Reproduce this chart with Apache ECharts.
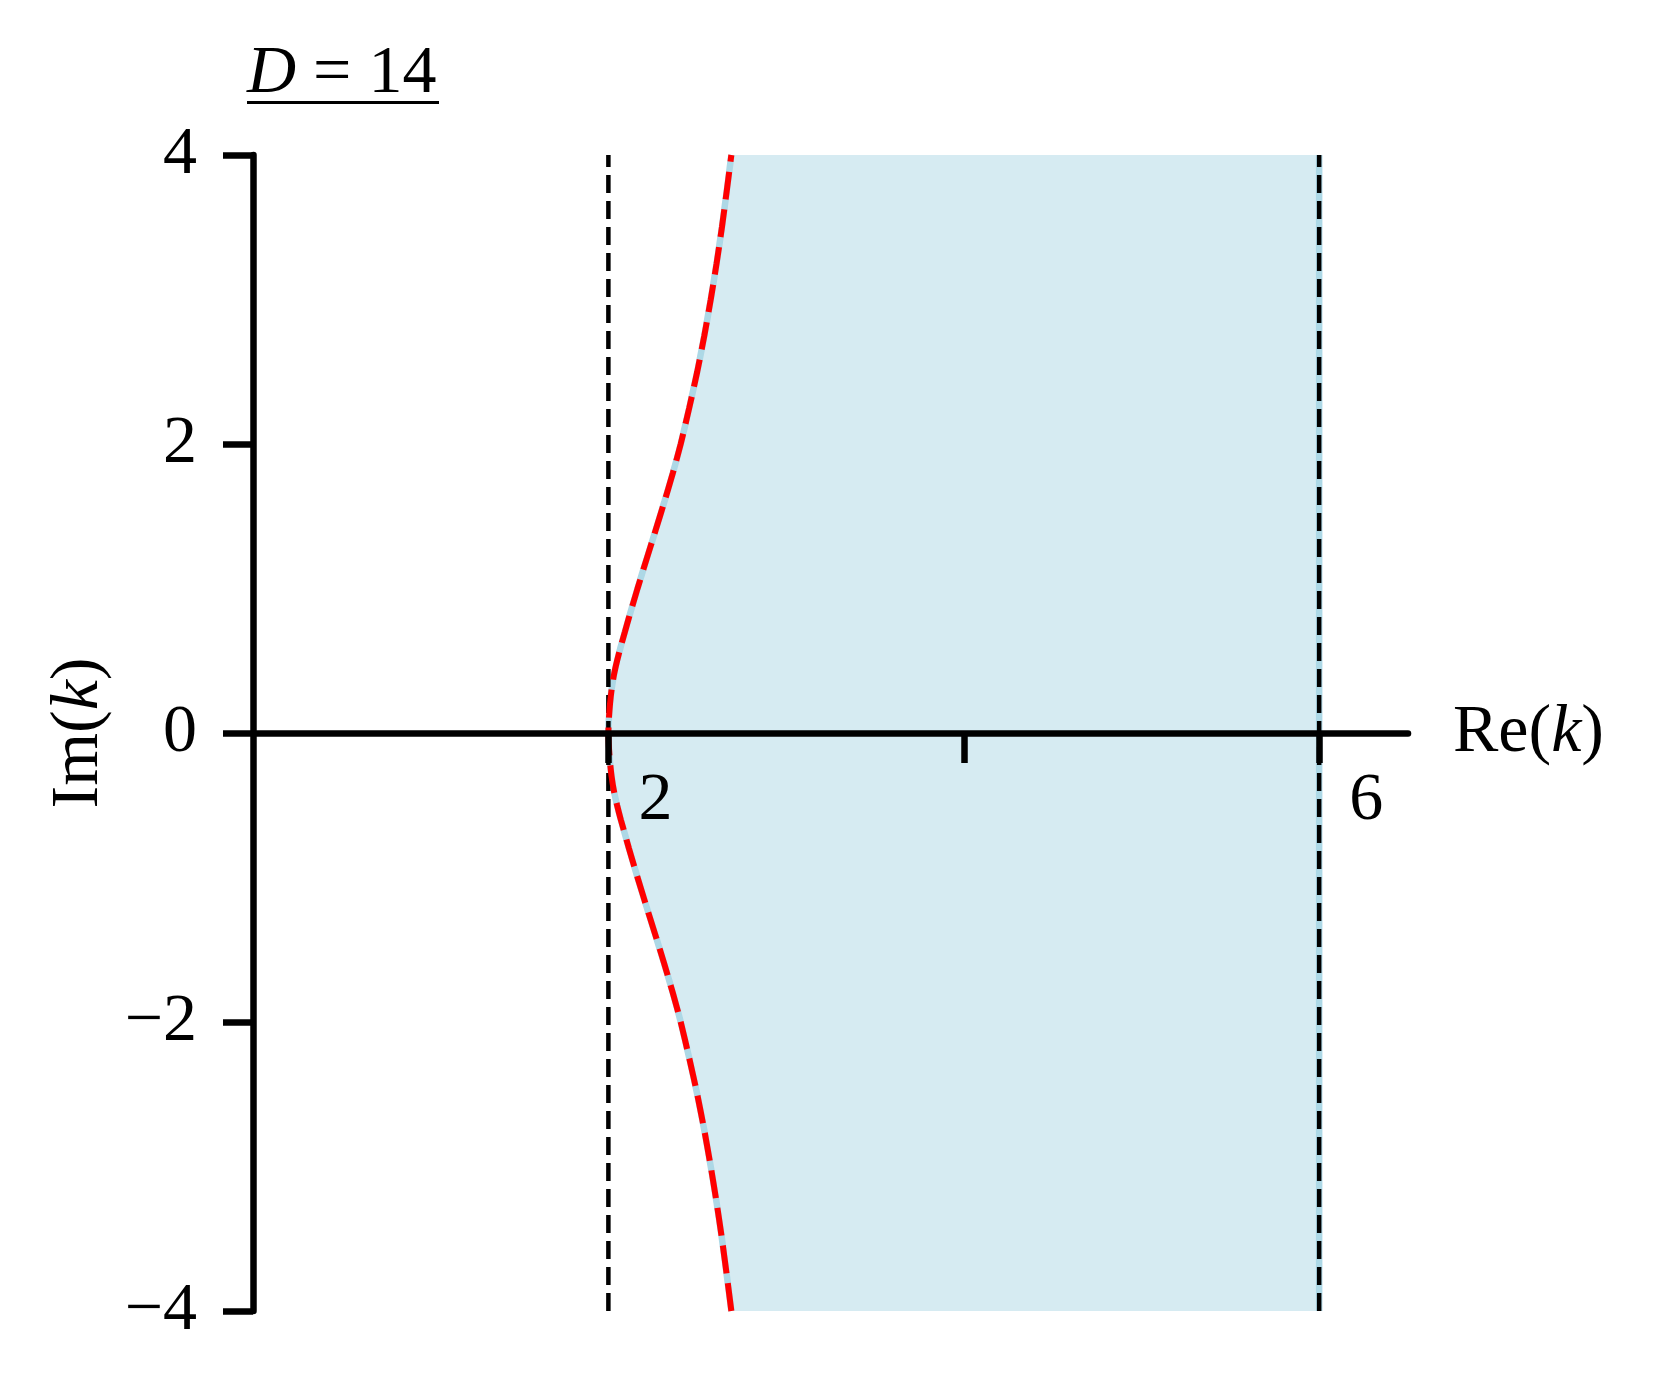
<!DOCTYPE html>
<html>
<head>
<meta charset="utf-8">
<script src="https://cdn.jsdelivr.net/npm/echarts@6/dist/echarts.min.js"></script>
<style>
html, body { margin: 0; padding: 0; background: #fff; }
#main { width: 1671px; height: 1392px; }
</style>
</head>
<body>
<div id="main"></div>
<script>
// boundary curve of the shaded region, Im(k) -> Re(k)
var curveIm = [-4, -3.75, -3.5, -3.25, -3, -2.75, -2.5, -2.25, -2, -1.8, -1.6, -1.4, -1.2, -1,
    -0.9, -0.8, -0.7, -0.6, -0.5, -0.4, -0.3, -0.2, -0.1, 0, 0.1, 0.2, 0.3, 0.4, 0.5, 0.6, 0.7,
    0.8, 0.9, 1, 1.2, 1.4, 1.6, 1.8, 2, 2.25, 2.5, 2.75, 3, 3.25, 3.5, 3.75, 4];
var curveRe = [2.692, 2.666, 2.639, 2.609, 2.576, 2.540, 2.500, 2.455, 2.407, 2.363, 2.315, 2.265, 2.214, 2.164,
    2.140, 2.116, 2.093, 2.070, 2.049, 2.031, 2.018, 2.009, 2.003, 2.000, 2.003, 2.009, 2.018, 2.031, 2.049, 2.070, 2.093,
    2.116, 2.140, 2.164, 2.214, 2.265, 2.315, 2.363, 2.407, 2.455, 2.500, 2.540, 2.576, 2.609, 2.639, 2.666, 2.692];
var boundaryRe = [2, 6];      // dashed vertical lines
var imRange = [-4, 4];
var reRange = [0, 6.5];
var xTicks = [2, 4, 6];
var xTickLabels = [2, 6];
var yTicks = [-4, -2, 0, 2, 4];

var font = 'Liberation Serif';
var fs = 68;

var curvePts = curveIm.map(function (y, i) { return [curveRe[i], y]; });
function vline(x) { return [[x, imRange[0]], [x, imRange[1]]]; }

var mathRich = {
    n: { fontFamily: font, fontSize: fs, color: '#000' },
    i: { fontFamily: font, fontSize: fs, fontStyle: 'italic', color: '#000' }
};

var gridTop = 155, gridBottom = 81, gridH = 1392 - gridTop - gridBottom;

var chart = echarts.init(document.getElementById('main'));
var option = {
    animation: false,
    backgroundColor: '#fff',
    grid: { left: 253, right: 263, top: gridTop, bottom: gridBottom, outerBoundsMode: 'none', containLabel: false },
    graphic: [
        {
            type: 'text', left: 247, top: 40,
            style: { text: '{i|D} = 14', rich: mathRich, fontFamily: font, fontSize: fs, fill: '#000' }
        },
        { type: 'rect', left: 247, top: 101, shape: { width: 192, height: 3 }, style: { fill: '#000' } }
    ],
    xAxis: {
        type: 'value', min: reRange[0], max: reRange[1], z: 5,
        // axis sits on Im(k) = 0, half way up the grid
        offset: -gridH * (0 - imRange[0]) / (imRange[1] - imRange[0]),
        axisLine: { onZero: false, lineStyle: { color: '#000', width: 6.5 } },
        axisTick: { show: true, length: 30, customValues: xTicks, lineStyle: { color: '#000', width: 6.5 } },
        axisLabel: {
            color: '#000', fontFamily: font, fontSize: fs, align: 'left', margin: 34,
            padding: [0, 0, 0, 30], customValues: xTickLabels,
            formatter: function (v) { return String(v); }
        },
        splitLine: { show: false },
        name: '{n|Re(}{i|k}{n|)}', nameLocation: 'end', nameGap: 45,
        nameTextStyle: { rich: mathRich, fontFamily: font, fontSize: fs, color: '#000' }
    },
    yAxis: {
        type: 'value', min: imRange[0], max: imRange[1], interval: 2, z: 5,
        axisLine: { show: true, onZero: false, lineStyle: { color: '#000', width: 6.5 } },
        axisTick: { show: true, length: 30, customValues: yTicks, lineStyle: { color: '#000', width: 6.5 } },
        axisLabel: {
            color: '#000', fontFamily: font, fontSize: fs, margin: 56, customValues: yTicks,
            formatter: function (v) { return v < 0 ? '\u2212' + Math.abs(v) : String(v); }
        },
        splitLine: { show: false },
        name: '{n|Im(}{i|k}{n|)}', nameLocation: 'middle', nameGap: 140, nameRotate: 90,
        nameTextStyle: { rich: mathRich, fontFamily: font, fontSize: fs, color: '#000' }
    },
    series: [
        {
            type: 'custom', z: 1, silent: true,
            data: curvePts,
            renderItem: function (params, api) {
                if (params.dataIndex !== 0) return null;
                var pts = curvePts.map(function (p) { return api.coord(p); });
                pts.push(api.coord([boundaryRe[1], imRange[1]]));
                pts.push(api.coord([boundaryRe[1], imRange[0]]));
                return { type: 'polygon', shape: { points: pts }, style: { fill: 'rgba(173,216,230,0.5)' } };
            }
        },
        {
            type: 'line', z: 2, symbol: 'none', silent: true, data: curvePts, smooth: 0.2,
            lineStyle: { color: '#add8e6', width: 6.5 }
        },
        {
            type: 'line', z: 2, symbol: 'none', silent: true, data: vline(boundaryRe[1]),
            lineStyle: { color: '#add8e6', width: 6.5 }
        },
        {
            type: 'line', z: 3, symbol: 'none', silent: true, data: vline(boundaryRe[0]),
            lineStyle: { color: '#000', width: 4.5, type: [18, 8] }
        },
        {
            type: 'line', z: 3, symbol: 'none', silent: true, data: vline(boundaryRe[1]),
            lineStyle: { color: '#000', width: 4.5, type: [18, 8] }
        },
        {
            type: 'line', z: 4, symbol: 'none', silent: true, data: curvePts, smooth: 0.2,
            lineStyle: { color: '#ff0000', width: 6, type: [28, 10] }
        }
    ]
};
chart.setOption(option);
</script>
</body>
</html>
